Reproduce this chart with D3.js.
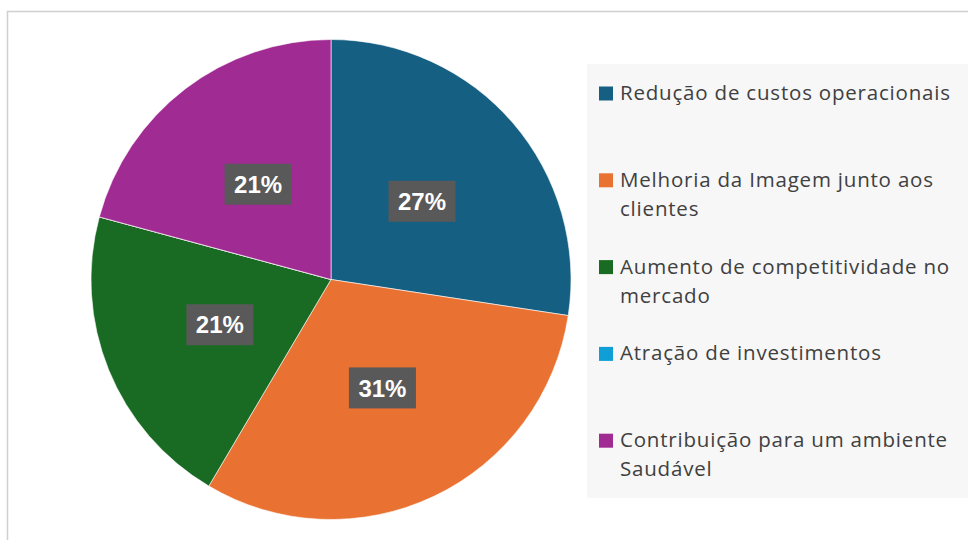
<!DOCTYPE html>
<html>
<head>
<meta charset="utf-8">
<script src="https://cdn.jsdelivr.net/npm/d3@7"></script>
<style>
  body { margin: 0; background: #fff; }
</style>
</head>
<body>
<div id="chart"></div>
<script>
const categories = [
    "Redução de custos operacionais",
    "Melhoria da Imagem junto aos clientes",
    "Aumento de competitividade no mercado",
    "Atração de investimentos",
    "Contribuição para um ambiente Saudável"
];
// shares in percent
const shares = [27.4, 31.1, 20.7, 0, 20.8];
const colors = ["#156082", "#E97132", "#196B24", "#0F9ED5", "#A02B93"];

const data = categories.map((c, i) => ({ category: c, value: shares[i], color: colors[i] }));
const total = d3.sum(shares);

const width = 968;
const height = 540;
const radius = 240;
const cx = 331, cy = 279.5;

const svg = d3.select("#chart")
    .append("svg")
    .attr("width", width)
    .attr("height", height)
    .style("display", "block");

// chart area border
svg.append("rect")
    .attr("x", 7.5)
    .attr("y", 11.5)
    .attr("width", 1200)
    .attr("height", 800)
    .attr("fill", "#fff")
    .attr("stroke", "#d0d0d0")
    .attr("stroke-width", 1.5);

const pie = d3.pie()
    .value(d => d.value)
    .sort(null);

const arc = d3.arc()
    .innerRadius(0)
    .outerRadius(radius);

const g = svg.append("g")
    .attr("transform", `translate(${cx},${cy})`);

const arcs = pie(data);

g.selectAll("path")
    .data(arcs)
    .enter()
    .append("path")
    .attr("d", arc)
    .attr("fill", d => d.data.color)
    .attr("stroke", "#fff")
    .attr("stroke-width", 0.6);

// data labels
const labels = g.selectAll(".label")
    .data(arcs.filter(d => d.data.value > 0))
    .enter()
    .append("g")
    .attr("class", "label")
    .attr("transform", d => `translate(${arc.centroid(d)})`);

labels.append("rect")
    .attr("x", -33.5)
    .attr("y", -20.5)
    .attr("width", 67)
    .attr("height", 41)
    .attr("fill", "#595959");

labels.append("text")
    .attr("text-anchor", "middle")
    .attr("dy", "0.36em")
    .attr("fill", "#fff")
    .attr("font-family", "'Liberation Sans', Arial, sans-serif")
    .attr("font-weight", "bold")
    .attr("font-size", "24px")
    .text(d => d3.format(".0%")(d.data.value / total));

// legend
const legend = svg.append("g");

legend.append("rect")
    .attr("x", 587)
    .attr("y", 64)
    .attr("width", 400)
    .attr("height", 434)
    .attr("fill", "#f7f7f7");

const itemStep = 86.8;
const lineHeight = 29;
const maxWidth = 350;

const items = legend.selectAll(".item")
    .data(data)
    .enter()
    .append("g")
    .attr("class", "item")
    .attr("transform", (d, i) => `translate(599,${100 + i * itemStep})`);

items.append("rect")
    .attr("x", 0)
    .attr("y", -13.5)
    .attr("width", 14)
    .attr("height", 14)
    .attr("fill", d => d.color);

items.append("text")
    .attr("x", 21)
    .attr("fill", "#404040")
    .attr("font-family", "'Open Sans', sans-serif")
    .attr("font-size", "20.5px")
    .attr("letter-spacing", "0.8px")
    .each(function(d) {
        const text = d3.select(this);
        const words = d.category.split(" ");
        let line = [];
        let lineNo = 0;
        let tspan = text.append("tspan").attr("x", 21).attr("y", 0);
        words.forEach(w => {
            line.push(w);
            tspan.text(line.join(" "));
            if (tspan.node().getComputedTextLength() > maxWidth && line.length > 1) {
                line.pop();
                tspan.text(line.join(" "));
                line = [w];
                lineNo++;
                tspan = text.append("tspan")
                    .attr("x", 21)
                    .attr("y", lineNo * lineHeight)
                    .text(w);
            }
        });
    });
</script>
</body>
</html>
